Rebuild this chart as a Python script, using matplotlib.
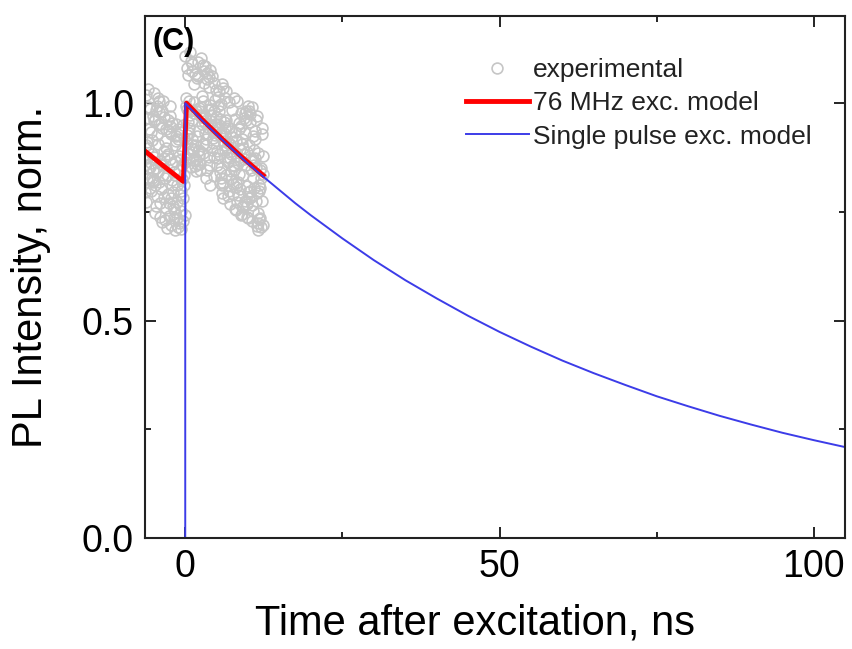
import numpy as np
import matplotlib
matplotlib.use("Agg")
import matplotlib.pyplot as plt
from matplotlib.ticker import MultipleLocator

plt.rcParams['font.family'] = ['Liberation Sans', 'DejaVu Sans']

# experimental data: time bins (ns) and normalised PL intensity
exp_pre_t = np.round(np.arange(-6.40, -0.025, 0.05), 2)
exp_pre_y = [0.795, 0.858, 0.772, 0.903, 1.018, 0.826, 0.911, 0.874, 0.851, 0.897, 0.966, 1.032, 0.941, 0.992, 0.829, 0.806,
             0.853, 0.987, 0.862, 0.934, 0.798, 0.915, 0.884, 0.827, 0.846, 0.971, 0.819, 0.823, 0.958, 1.024, 0.876, 0.748,
             0.812, 0.963, 0.984, 0.851, 0.763, 0.994, 0.927, 0.786, 0.905, 1.013, 0.842, 0.979, 1.006, 0.818, 0.953, 0.867,
             0.771, 0.738, 0.861, 0.952, 0.803, 0.726, 0.982, 0.944, 0.835, 1.004, 0.858, 0.873, 0.889, 0.968, 0.784, 0.829,
             0.732, 0.914, 0.941, 0.759, 0.896, 0.834, 0.713, 0.878, 0.792, 0.962, 0.883, 0.771, 0.741, 0.937, 0.993, 0.971,
             0.947, 0.872, 0.781, 0.928, 0.719, 0.812, 0.823, 0.955, 0.764, 0.861, 0.796, 0.841, 0.757, 0.735, 0.749, 0.903,
             0.708, 0.866, 0.912, 0.953, 0.924, 0.772, 0.737, 0.813, 0.941, 0.716, 0.918, 0.879, 0.846, 0.724, 0.788, 0.767,
             0.934, 0.753, 0.797, 0.711, 0.872, 0.858, 0.826, 0.893, 0.728, 0.949, 0.783, 0.921, 0.812, 0.834, 0.864, 0.742]
exp_post_t = np.round(np.arange(0.0, 12.425, 0.05), 2)
exp_post_y = [1.108, 0.994, 1.013, 0.871, 0.987, 1.082, 0.926, 0.908, 0.957, 0.884, 1.064, 0.931, 1.006, 0.942, 0.983, 1.117, 0.972, 0.853, 1.096, 0.897,
              0.918, 1.073, 0.962, 1.091, 0.887, 0.869, 0.894, 1.043, 0.978, 1.002, 0.856, 0.903, 1.068, 0.981, 0.872, 0.843, 0.924, 1.057, 0.861, 0.889,
              1.094, 0.937, 1.062, 0.989, 0.893, 0.878, 0.861, 0.846, 0.973, 0.991, 0.968, 1.103, 1.017, 0.952, 0.969, 1.004, 0.907, 0.886, 1.088, 0.958,
              1.047, 1.074, 0.968, 0.932, 1.085, 0.917, 0.828, 0.903, 1.056, 0.847, 1.069, 0.984, 0.946, 0.929, 0.876, 1.038, 1.061, 0.859, 0.813, 1.077,
              0.996, 0.958, 0.973, 0.987, 0.944, 1.063, 0.892, 0.909, 0.938, 0.921, 0.982, 0.833, 0.876, 1.046, 0.927, 1.008, 0.951, 0.969, 0.934, 1.031,
              0.857, 0.873, 0.889, 0.993, 1.014, 0.952, 0.981, 1.027, 0.884, 0.816, 0.963, 0.926, 0.842, 0.998, 0.827, 0.851, 0.794, 0.812, 1.043, 0.783,
              1.036, 0.817, 0.904, 0.913, 0.957, 0.893, 1.012, 0.928, 0.944, 0.961, 1.029, 0.834, 0.876, 0.897, 0.948, 0.786, 0.864, 0.909, 1.003, 0.942,
              0.797, 0.768, 0.873, 0.906, 0.884, 0.843, 0.826, 0.937, 0.922, 0.889, 0.984, 0.814, 0.792, 0.858, 0.847, 1.013, 0.856, 0.934, 0.757, 0.963,
              0.816, 0.913, 0.754, 0.807, 0.878, 1.006, 0.773, 0.862, 0.789, 0.818, 0.954, 0.837, 0.941, 0.803, 0.869, 0.894, 0.977, 0.948, 0.743, 0.761,
              0.906, 0.918, 0.746, 0.897, 0.836, 0.763, 0.884, 0.871, 0.966, 0.978, 0.774, 0.932, 0.858, 0.961, 0.983, 0.768, 0.887, 0.809, 0.738, 0.994,
              0.796, 0.737, 0.983, 0.904, 0.781, 0.957, 0.798, 0.976, 0.785, 0.874, 0.846, 0.729, 0.991, 0.766, 0.924, 0.753, 0.868, 0.827, 0.893, 0.857,
              0.806, 0.874, 0.917, 0.936, 0.962, 0.776, 0.853, 0.971, 0.718, 0.793, 0.886, 0.724, 0.709, 0.748, 0.733, 0.812, 0.797, 0.736, 0.847, 0.804,
              0.715, 0.852, 0.827, 0.943, 0.928, 0.774, 0.721, 0.838, 0.879]

# 76 MHz excitation model
rep_t = [-6.4, -3.4, -0.3, 0.2, 3.0, 6.0, 9.0, 12.4]
rep_y = [0.89, 0.855, 0.82, 1.0, 0.958, 0.916, 0.876, 0.834]

# single pulse excitation model
single_t = [0.0, 0.0, 2.5, 5, 7.5, 10, 12.5, 15, 17.5, 20, 25, 30, 35, 40, 45,
            50, 55, 60, 65, 70, 75, 80, 85, 90, 95, 100, 105]
single_y = [0.0, 1.0, 0.963, 0.928, 0.894, 0.861, 0.830, 0.800, 0.770, 0.742,
            0.689, 0.639, 0.593, 0.551, 0.511, 0.474, 0.440, 0.408, 0.379,
            0.352, 0.326, 0.303, 0.281, 0.261, 0.242, 0.225, 0.209]

fig = plt.figure(figsize=(8.53, 6.49), dpi=100)
ax = fig.add_axes([0.170, 0.171, 0.821, 0.804])

ax.plot(list(exp_pre_t) + list(exp_post_t), exp_pre_y + exp_post_y,
        linestyle='none', marker='o', markersize=7.8, markerfacecolor='none',
        markeredgecolor='#c6c6c6', markeredgewidth=1.2, label='experimental')
ax.plot(rep_t, rep_y, color='#ff0000', lw=3.5, label='76 MHz exc. model')
ax.plot(single_t, single_y, color='#3c3ce8', lw=1.4,
        label='Single pulse exc. model')

ax.set_xlim(-6.4, 105)
ax.set_ylim(0, 1.2)
ax.xaxis.set_major_locator(MultipleLocator(50))
ax.xaxis.set_minor_locator(MultipleLocator(25))
ax.yaxis.set_minor_locator(MultipleLocator(0.25))
ax.set_yticks([0.0, 0.5, 1.0])
ax.set_yticklabels(['0.0', '0.5', '1.0'])
ax.tick_params(which='both', direction='in', top=True, right=True,
               labelsize=27, width=1.2, pad=8)
ax.tick_params(which='major', length=8)
ax.tick_params(which='minor', length=4)
for s in ax.spines.values():
    s.set_linewidth(1.5)
    s.set_color('#222222')

ax.set_xlabel('Time after excitation, ns', fontsize=30, labelpad=12)
ax.xaxis.set_label_coords(0.471, -0.125)
ax.set_ylabel('PL Intensity, norm.', fontsize=30, labelpad=22)

ax.text(0.01, 0.98, '(C)', transform=ax.transAxes, fontsize=22,
        fontweight='bold', va='top', ha='left')

leg = ax.legend(loc='upper right', bbox_to_anchor=(0.967, 0.94), frameon=False,
                fontsize=19, handlelength=2.4, handletextpad=0.15,
                labelspacing=0.35, borderaxespad=0.0)
for t in leg.get_texts():
    t.set_color('#222222')

fig.savefig('out.png', dpi=100)
